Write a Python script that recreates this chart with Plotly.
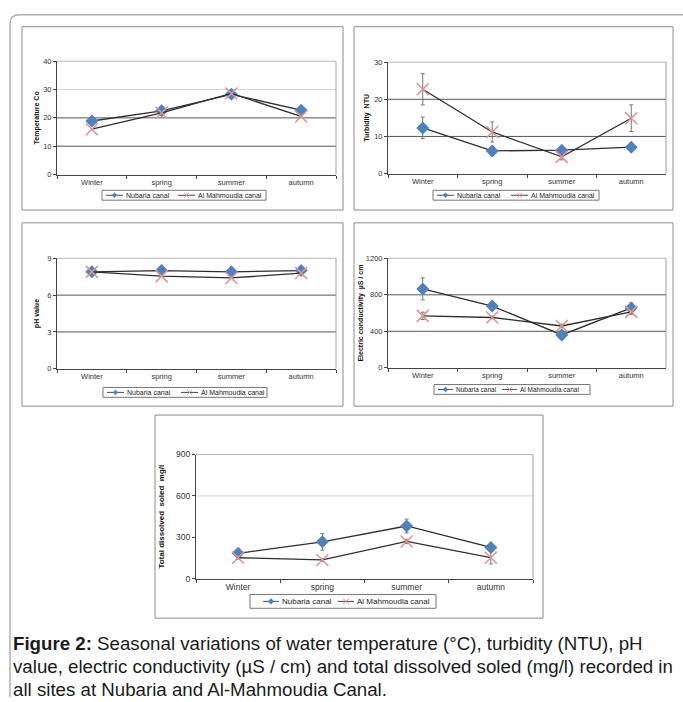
import plotly.graph_objects as go

W, H = 683, 702

# ---------------- data ----------------
seasons = ["Winter", "spring", "summer", "autumn"]
series_names = ["Nubaria canal", "Al Mahmoudia canal"]

temp_nub = [18.9, 22.5, 28.3, 22.7]
temp_mah = [16.0, 21.8, 28.6, 20.5]

turb_nub = [12.3, 6.1, 6.3, 7.1]
turb_nub_err = [2.9, 1.2, 0.8, 1.0]
turb_mah = [22.7, 11.2, 4.5, 14.9]
turb_mah_err = [4.2, 2.7, 0.8, 3.6]

ph_nub = [7.9, 8.0, 7.9, 8.0]
ph_mah = [7.9, 7.55, 7.4, 7.8]

ec_nub = [865, 677, 360, 656]
ec_nub_err = [120, 20, 50, 55]
ec_mah = [569, 551, 458, 613]
ec_mah_err = [40, 15, 20, 30]

tds_nub = [184, 267, 382, 227]
tds_nub_err = [15, 60, 50, 20]
tds_mah = [152, 136, 270, 152]
tds_mah_err = [10, 10, 15, 45]

y_titles = ["Temperature Co", "Turbidity  NTU", "pH value",
            "Electric conductivity  \u00b5S / cm", "Total dissolved  soled  mg/l"]
y_max = [40, 30, 9, 1200, 900]
y_dtick = [10, 10, 3, 400, 300]

caption_lines = [
    "<b>Figure 2:</b> Seasonal variations of water temperature (\u00b0C), turbidity (NTU), pH",
    "value, electric conductivity (\u00b5S / cm) and total dissolved soled (mg/l) recorded in",
    "all sites at Nubaria and Al-Mahmoudia Canal.",
]

# ---------------- helpers ----------------
def px(x):
    return x / W


def py(y):
    return 1 - y / H


FONT = "Liberation Sans, Arial, sans-serif"
BLUE = "#4F81BD"
PINK = "#D99694"
LINE = "#2e2e2e"
DARKGRID = "#555555"
LIGHTGRID = "#d4d4d4"

panels = [
    dict(box=(22, 22, 343, 208), plot=(57, 57, 336, 172), standoff=2, fs=7.5, lfs=7,
         nub=temp_nub, nub_err=None, mah=temp_mah, mah_err=None,
         grids=[(30, LIGHTGRID), (20, DARKGRID), (10, DARKGRID)],
         leg=(102, 188, 266, 198), e1=4, e2=76, ll=17),
    dict(box=(354, 22, 673, 208), plot=(388, 58, 666, 171), standoff=3, fs=7.5, lfs=7,
         nub=turb_nub, nub_err=turb_nub_err, mah=turb_mah, mah_err=turb_mah_err,
         grids=[(20, DARKGRID), (10, DARKGRID)],
         leg=(433, 188, 599, 198), e1=4, e2=78, ll=17),
    dict(box=(22, 221, 343, 407), plot=(57, 257, 336, 369), standoff=6, fs=7.5, lfs=7,
         nub=ph_nub, nub_err=None, mah=ph_mah, mah_err=None,
         grids=[(6, DARKGRID), (3, DARKGRID)],
         leg=(103, 388, 267, 398), e1=4, e2=78, ll=17),
    dict(box=(354, 221, 673, 407), plot=(388, 257, 666, 368), standoff=1, fs=7.5, lfs=6.5,
         nub=ec_nub, nub_err=ec_nub_err, mah=ec_mah, mah_err=ec_mah_err,
         grids=[(800, DARKGRID), (400, DARKGRID)],
         leg=(434, 385, 590, 395), e1=4, e2=68, ll=15),
    dict(box=(155, 416, 543, 622), plot=(196, 456, 533, 582), standoff=10, fs=8.5, lfs=8,
         nub=tds_nub, nub_err=tds_nub_err, mah=tds_mah, mah_err=tds_mah_err,
         grids=[(600, LIGHTGRID)],
         leg=(250, 598, 436, 612), e1=13, e2=88, ll=16),
]

fig = go.Figure()
shapes = []
annotations = []
layout_axes = {}

for i, p in enumerate(panels):
    s = "" if i == 0 else str(i + 1)
    xa, ya = "x" + s, "y" + s
    l, t, r, b = p["plot"]
    fs = p["fs"]

    for vals, err, sym, size, mcolor, mline in [
        (p["nub"], p["nub_err"], "diamond", 10, BLUE, dict(width=0)),
        (p["mah"], p["mah_err"], "x-thin-open", 12, PINK, dict(width=1.6, color=PINK)),
    ]:
        fig.add_trace(go.Scatter(
            x=seasons, y=vals, mode="lines+markers",
            line=dict(color=LINE, width=1.3),
            marker=dict(symbol=sym, size=size, color=mcolor, line=mline),
            error_y=(dict(type="data", array=err, visible=True, color="#777777",
                          thickness=1, width=2) if err else None),
            xaxis=xa, yaxis=ya, showlegend=False, hoverinfo="skip",
        ))

    layout_axes["xaxis" + s] = dict(
        domain=[px(l), px(r)], anchor=ya, type="category",
        categoryorder="array", categoryarray=seasons, range=[-0.5, 3.5],
        showline=True, linecolor="#444444", linewidth=1, ticks="outside",
        tickson="boundaries", ticklen=3, tickcolor="#444444", showgrid=False,
        zeroline=False, tickfont=dict(size=fs, color="#333333", family=FONT),
        fixedrange=True,
    )
    layout_axes["yaxis" + s] = dict(
        domain=[py(b), py(t)], anchor=xa, range=[0, y_max[i]], dtick=y_dtick[i],
        tick0=0, showline=True, linecolor="#444444", linewidth=1, ticks="outside",
        ticklen=3, tickcolor="#444444", showgrid=False, zeroline=False,
        tickfont=dict(size=fs, color="#333333", family=FONT), fixedrange=True,
        title=dict(text="<b>" + y_titles[i] + "</b>",
                   font=dict(size=fs - 0.5, color="#111111", family=FONT),
                   standoff=p["standoff"]),
    )

    # panel frame
    bx0, by0, bx1, by1 = p["box"]
    shapes.append(dict(type="rect", xref="paper", yref="paper",
                       x0=px(bx0), x1=px(bx1), y0=py(by1), y1=py(by0),
                       line=dict(color="#8c8c8c", width=1), layer="below"))
    # plot-area top and right borders
    shapes.append(dict(type="line", xref=xa + " domain", yref=ya + " domain",
                       x0=0, x1=1, y0=1, y1=1, line=dict(color="#b8b8b8", width=1)))
    shapes.append(dict(type="line", xref=xa + " domain", yref=ya + " domain",
                       x0=1, x1=1, y0=0, y1=1, line=dict(color="#a0a0a0", width=1)))
    # gridlines
    for gv, gc in p["grids"]:
        shapes.append(dict(type="line", xref=xa + " domain", yref=ya,
                           x0=0, x1=1, y0=gv, y1=gv, layer="below",
                           line=dict(color=gc, width=1)))

    # manual legend
    lx0, ly0, lx1, ly1 = p["leg"]
    lfs = p["lfs"]
    shapes.append(dict(type="rect", xref="paper", yref="paper",
                       x0=px(lx0), x1=px(lx1), y0=py(ly1), y1=py(ly0),
                       line=dict(color="#777777", width=1), fillcolor="white"))
    cy = (ly0 + ly1) / 2
    for k, off in enumerate([p["e1"], p["e2"]]):
        sx = lx0 + off
        ex = sx + p["ll"]
        mx = (sx + ex) / 2
        shapes.append(dict(type="line", xref="paper", yref="paper",
                           x0=px(sx), x1=px(ex), y0=py(cy), y1=py(cy),
                           line=dict(color=("#2f4f7f" if k == 0 else "#444444"), width=1)))
        rr = 3 if lfs >= 8 else 2.5
        if k == 0:
            path = "M {},{} L {},{} L {},{} L {},{} Z".format(
                px(mx), py(cy - rr), px(mx + rr), py(cy), px(mx), py(cy + rr), px(mx - rr), py(cy))
            shapes.append(dict(type="path", xref="paper", yref="paper", path=path,
                               fillcolor=BLUE, line=dict(color=BLUE, width=0.5)))
        else:
            path = "M {},{} L {},{} M {},{} L {},{}".format(
                px(mx - rr), py(cy - rr), px(mx + rr), py(cy + rr),
                px(mx - rr), py(cy + rr), px(mx + rr), py(cy - rr))
            shapes.append(dict(type="path", xref="paper", yref="paper", path=path,
                               line=dict(color=PINK, width=1)))
        annotations.append(dict(xref="paper", yref="paper", x=px(ex + 1), y=py(cy),
                                xanchor="left", yanchor="middle", showarrow=False,
                                text=series_names[k],
                                font=dict(size=lfs, color="#222222", family=FONT)))

# outer frame with rounded corner (top-left)
frame = "M {},{} L {},{} Q {},{} {},{} L {},{}".format(
    px(10), py(702), px(10), py(19), px(10), py(10), px(19), py(10), px(683), py(10))
shapes.append(dict(type="path", xref="paper", yref="paper", path=frame,
                   line=dict(color="#b0b0b0", width=1.5)))

# caption
for j, (txt, yc) in enumerate(zip(caption_lines, [648, 671, 694])):
    annotations.append(dict(xref="paper", yref="paper", x=px(11), y=py(yc),
                            xanchor="left", yanchor="middle", showarrow=False,
                            text=txt, font=dict(size=18.7, color="#1a1a1a", family=FONT)))

fig.update_layout(
    width=W, height=H, margin=dict(l=0, r=0, t=0, b=0),
    paper_bgcolor="white", plot_bgcolor="white",
    font=dict(family=FONT), showlegend=False,
    shapes=shapes, annotations=annotations, **layout_axes,
)

fig.write_html(
    "out.html",
    config={"displayModeBar": False, "staticPlot": True},
    post_script="document.body.style.margin='0';document.body.style.overflow='hidden';",
)
